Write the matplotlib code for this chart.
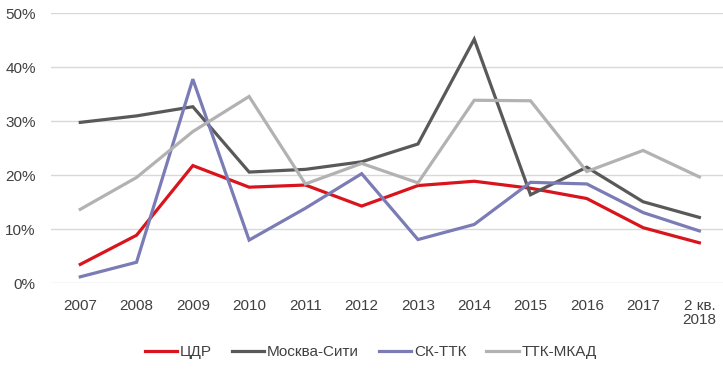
import numpy as np
import matplotlib
matplotlib.use("Agg")
import matplotlib.pyplot as plt
from matplotlib.ticker import FuncFormatter

YEARS = ["2007", "2008", "2009", "2010", "2011", "2012", "2013", "2014",
         "2015", "2016", "2017", "2 кв.\n2018"]

CDR = [3.5, 8.9, 21.8, 17.8, 18.2, 14.3, 18.1, 18.9, 17.6, 15.7, 10.3, 7.5]
MOSCOW_CITY = [29.8, 31.0, 32.7, 20.6, 21.1, 22.5, 25.8, 45.2, 16.4, 21.5, 15.1, 12.2]
SK_TTK = [1.2, 3.9, 37.8, 8.0, 13.9, 20.3, 8.1, 10.9, 18.7, 18.4, 13.1, 9.7]
TTK_MKAD = [13.7, 19.6, 28.1, 34.6, 18.4, 22.2, 18.6, 33.9, 33.8, 20.7, 24.6, 19.7]

SERIES = [
    ("ЦДР", CDR, "#d9141c"),
    ("Москва-Сити", MOSCOW_CITY, "#595959"),
    ("СК-ТТК", SK_TTK, "#7b7bb5"),
    ("ТТК-МКАД", TTK_MKAD, "#b2b2b2"),
]

TEXT = "#404040"


def main():
    plt.rcParams["font.family"] = ["Liberation Sans", "DejaVu Sans"]
    plt.rcParams["font.size"] = 11

    fig = plt.figure(figsize=(7.23, 3.74), dpi=100)
    ax = fig.add_axes([51 / 723, 90.7 / 374, 672 / 723, 270.0 / 374])

    x = np.arange(len(YEARS))
    for name, vals, color in SERIES:
        ax.plot(x, vals, color=color, lw=2.3, label=name, solid_joinstyle="miter")

    ax.set_ylim(0, 50)
    ax.set_xlim(-0.52, 11.42)
    ax.set_yticks(np.arange(0, 51, 10))
    ax.yaxis.set_major_formatter(FuncFormatter(lambda v, _: f"{v:.0f}%"))
    ax.set_xticks(x)
    ax.set_xticklabels(YEARS, linespacing=1.0)
    ax.tick_params(axis="both", length=0, colors=TEXT, labelsize=11)
    ax.tick_params(axis="x", pad=11)
    ax.tick_params(axis="y", pad=11)
    ax.grid(axis="y", color="#d9d9d9", lw=1)
    ax.set_axisbelow(True)
    for s in ax.spines.values():
        s.set_visible(False)

    leg = fig.legend(loc="center", bbox_to_anchor=(371 / 723, 1 - 352 / 374),
                     ncol=4, frameon=False, handlelength=2.1, handletextpad=0.2,
                     columnspacing=1.3, fontsize=11)
    for t in leg.get_texts():
        t.set_color(TEXT)

    fig.savefig("out.png", dpi=100)
    plt.close(fig)


if __name__ == "__main__":
    main()
